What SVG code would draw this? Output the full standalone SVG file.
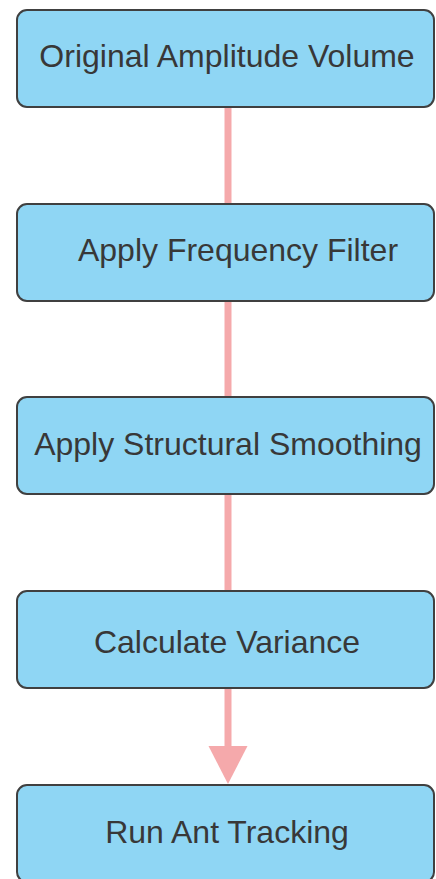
<svg xmlns="http://www.w3.org/2000/svg" width="436" height="879" viewBox="0 0 436 879">
  <style>
    .box { fill: #8fd6f4; stroke: #404040; stroke-width: 2; }
    .lbl { font-family: "Liberation Sans", Arial, sans-serif; font-size: 32px; fill: #383838; text-anchor: middle; }
    .edge { stroke: #f5a9ab; stroke-width: 7; fill: none; }
    .head { fill: #f5a9ab; }
  </style>
  <rect width="436" height="879" fill="#ffffff"/>
  <g id="connectors">
    <line class="edge" x1="228" y1="107" x2="228" y2="204"/>
    <line class="edge" x1="228" y1="301" x2="228" y2="397"/>
    <line class="edge" x1="228" y1="494" x2="228" y2="591"/>
    <line class="edge" x1="228" y1="688" x2="228" y2="748"/>
    <polygon class="head" points="208.5,746 247.5,746 228,784"/>
  </g>
  <g id="node1">
    <rect class="box" x="17" y="10" width="417" height="97" rx="10"/>
    <text class="lbl" x="227" y="67">Original Amplitude Volume</text>
  </g>
  <g id="node2">
    <rect class="box" x="17" y="204" width="417" height="97" rx="10"/>
    <text class="lbl" x="238" y="261">Apply Frequency Filter</text>
  </g>
  <g id="node3">
    <rect class="box" x="17" y="397" width="417" height="97" rx="10"/>
    <text class="lbl" x="228" y="455">Apply Structural Smoothing</text>
  </g>
  <g id="node4">
    <rect class="box" x="17" y="591" width="417" height="97" rx="10"/>
    <text class="lbl" x="227" y="653">Calculate Variance</text>
  </g>
  <g id="node5">
    <rect class="box" x="17" y="785" width="417" height="97" rx="10"/>
    <text class="lbl" x="227" y="843">Run Ant Tracking</text>
  </g>
</svg>
